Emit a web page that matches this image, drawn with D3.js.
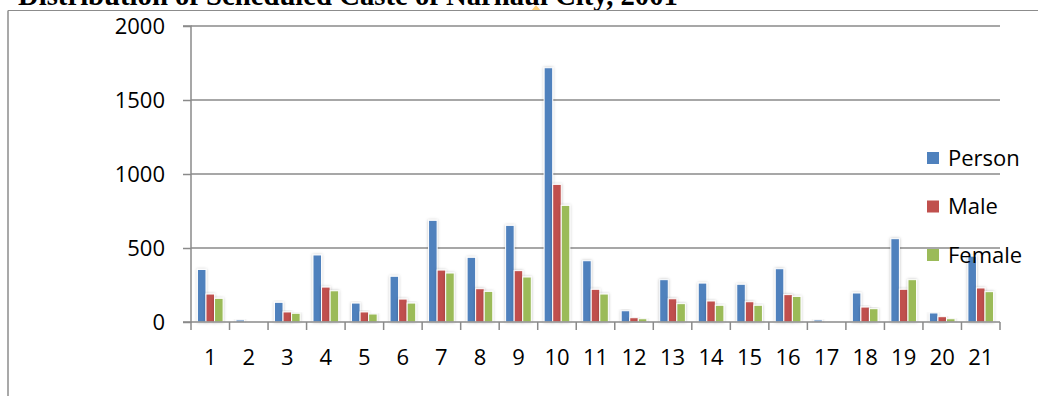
<!DOCTYPE html>
<html>
<head>
<meta charset="utf-8">
<script src="https://cdn.jsdelivr.net/npm/d3@7"></script>
<style>
  html, body { margin: 0; padding: 0; background: #fff; }
  svg { display: block; }
</style>
</head>
<body>
<svg id="chart" width="1038" height="396"></svg>
<script>
// Scheduled Caste population by ward, Narnaul City, 2001
const wards = ["1","2","3","4","5","6","7","8","9","10","11","12","13","14","15","16","17","18","19","20","21"];
const person = [355, 14, 133, 453, 128, 309, 687, 437, 653, 1718, 414, 76, 286, 263, 255, 360, 14, 196, 563, 61, 445];
const male   = [189, 0, 68, 236, 68, 155, 351, 225, 347, 930, 221, 29, 157, 142, 137, 185, 0, 101, 221, 36, 230];
const female = [160, 0, 59, 211, 54, 128, 331, 207, 304, 788, 189, 22, 124, 113, 113, 173, 0, 90, 286, 22, 205];
const seriesNames = ["Person", "Male", "Female"];
const seriesColors = ["#4F81BD", "#C0504D", "#9BBB59"];
const yTicks = [0, 500, 1000, 1500, 2000];
const titleText = "Distribution of Scheduled Caste of Narnaul City, 2001";

const svg = d3.select("#chart");
const W = 1038, H = 396;
const plot = { left: 191, right: 1000, top: 26, bottom: 322 };
const axisColor = "#8a8a8a";
const labelFont = "'Open Sans', 'Noto Sans', sans-serif";
const labelSize = 22;

// soft shadow behind the columns
const defs = svg.append("defs");
const f = defs.append("filter").attr("id", "shadow")
  .attr("x", "-60%").attr("y", "-10%").attr("width", "220%").attr("height", "130%");
f.append("feDropShadow").attr("dx", 0).attr("dy", 0).attr("stdDeviation", 1.8)
  .attr("flood-color", "#000").attr("flood-opacity", 0.25);

// title (sits above the frame, partly cut by the page edge)
const title = svg.append("text")
  .attr("x", 18).attr("y", 4.5)
  .attr("font-family", "'Liberation Serif', 'Times New Roman', serif")
  .attr("font-weight", "bold")
  .attr("font-size", 24)
  .attr("fill", "#000")
  .text(titleText);
const tw = title.node().getComputedTextLength();
title.attr("font-size", 24 * 660 / tw);

// small highlight marker on the frame edge
svg.append("path")
  .attr("d", "M531,11 L536,5 L541,11 Z")
  .attr("fill", "#ffd27a");

// chart frame (left and top edges visible)
svg.append("line").attr("x1", 8).attr("x2", W).attr("y1", 10.5).attr("y2", 10.5)
  .attr("stroke", "#8c8c8c").attr("stroke-width", 1.2);
svg.append("line").attr("x1", 8).attr("x2", 8).attr("y1", 10.5).attr("y2", H)
  .attr("stroke", "#8c8c8c").attr("stroke-width", 1.5);

// scales
const y = d3.scaleLinear().domain([0, 2000]).range([plot.bottom, plot.top]);
const x0 = d3.scaleBand().domain(wards).range([plot.left, plot.right]).paddingInner(0).paddingOuter(0);
const gapRatio = 1.5; // gap between groups relative to one column
const colW = x0.bandwidth() / (seriesNames.length + gapRatio);
const x1 = d3.scaleBand().domain(seriesNames)
  .range([0, colW * seriesNames.length]);

// gridlines
svg.append("g").selectAll("line")
  .data(yTicks.filter(d => d > 0))
  .join("line")
  .attr("x1", plot.left).attr("x2", plot.right)
  .attr("y1", d => y(d)).attr("y2", d => y(d))
  .attr("stroke", axisColor).attr("stroke-width", 1.5);

// columns
const rows = wards.map((w, i) => ({ ward: w, values: [person[i], male[i], female[i]] }));
const groups = svg.append("g").selectAll("g")
  .data(rows)
  .join("g")
  .attr("transform", d => `translate(${x0(d.ward) + colW * gapRatio / 2},0)`);
groups.selectAll("rect")
  .data(d => d.values.map((v, k) => ({ name: seriesNames[k], v, k })))
  .join("rect")
  .filter(d => d.v > 0)
  .attr("x", d => x1(d.name))
  .attr("width", x1.bandwidth())
  .attr("y", d => y(d.v))
  .attr("height", d => y(0) - y(d.v))
  .attr("fill", d => seriesColors[d.k])
  .attr("stroke", "#fff")
  .attr("stroke-width", 1)
  .attr("filter", "url(#shadow)");

// y axis
const yAxis = d3.axisLeft(y).tickValues(yTicks).tickSize(8).tickPadding(18).tickFormat(d3.format("d"));
const gy = svg.append("g").attr("transform", `translate(${plot.left},0)`).call(yAxis);
gy.select(".domain").attr("stroke", axisColor).attr("stroke-width", 1.5)
  .attr("d", `M-8,${plot.top}H0V${plot.bottom}H-8`);
gy.selectAll(".tick line").attr("stroke", axisColor).attr("stroke-width", 1.5);
gy.selectAll(".tick text")
  .attr("font-family", labelFont).attr("font-size", labelSize).attr("fill", "#000");

// x axis
const xAxis = d3.axisBottom(x0).tickSize(0).tickPadding(0);
const gx = svg.append("g").attr("transform", `translate(0,${plot.bottom})`).call(xAxis);
gx.select(".domain").attr("stroke", axisColor).attr("stroke-width", 1.5)
  .attr("d", `M${plot.left},0H${plot.right}`);
gx.selectAll(".tick text")
  .attr("font-family", labelFont).attr("font-size", labelSize).attr("fill", "#000")
  .attr("dy", 0).attr("y", 43);
// boundary ticks between wards
gx.append("g").selectAll("line")
  .data(wards.map(w => x0(w)).concat([plot.right]))
  .join("line")
  .attr("x1", d => d).attr("x2", d => d)
  .attr("y1", 0).attr("y2", 8)
  .attr("stroke", axisColor).attr("stroke-width", 1.5);

// legend
const legend = svg.append("g").selectAll("g")
  .data(seriesNames)
  .join("g")
  .attr("transform", (d, i) => `translate(927,${158 + i * 48.5})`);
legend.append("rect")
  .attr("x", 0).attr("y", -6).attr("width", 12).attr("height", 12)
  .attr("fill", (d, i) => seriesColors[i]);
legend.append("text")
  .attr("x", 21).attr("y", 0).attr("dy", "0.36em")
  .attr("font-family", labelFont).attr("font-size", labelSize).attr("fill", "#000")
  .text(d => d);
</script>
</body>
</html>
